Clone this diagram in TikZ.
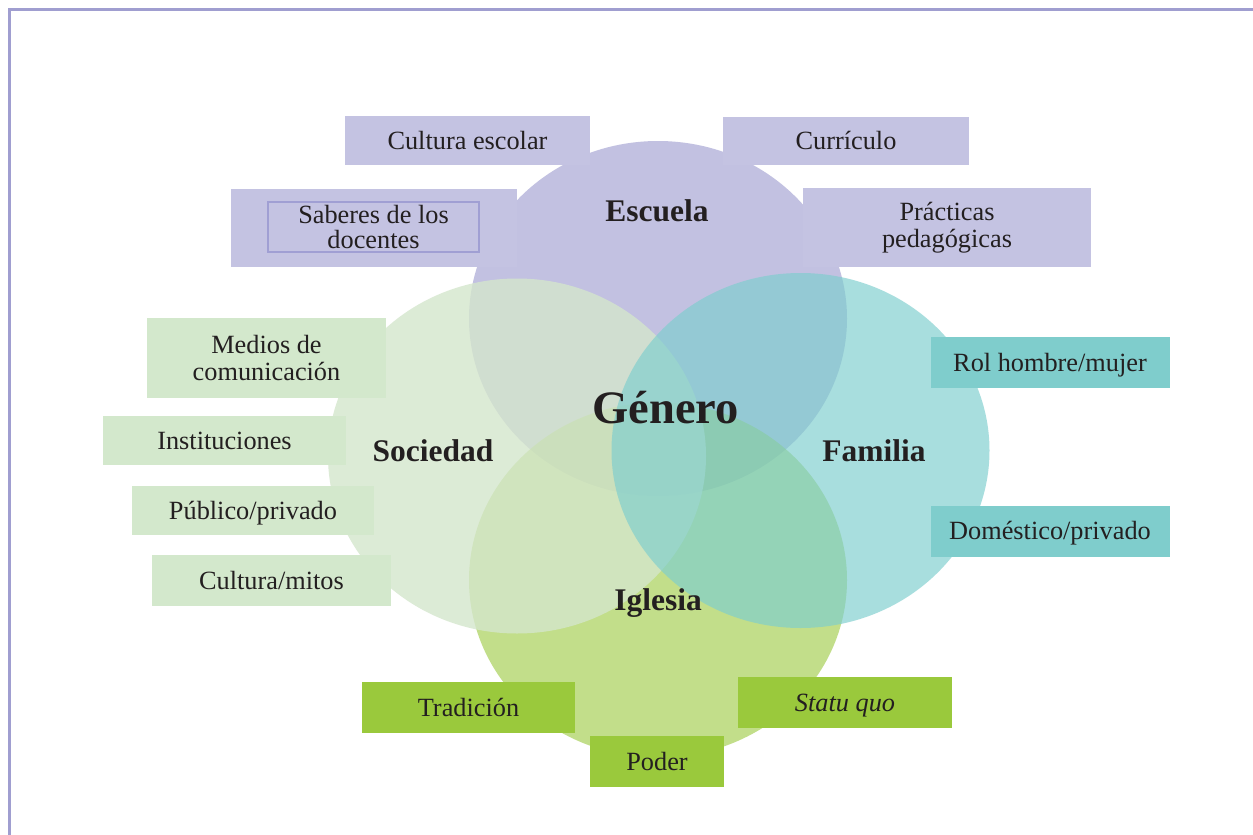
\documentclass[tikz,border=0pt]{standalone}
\usepackage{fontspec}
\setmainfont{Liberation Serif}
\usetikzlibrary{shapes.geometric}
\definecolor{framec}{HTML}{A09ED0}
\definecolor{escc}{HTML}{C2C1E1}
\definecolor{socc}{HTML}{D4E6CC}
\definecolor{famc}{HTML}{7ECECE}
\definecolor{iglc}{HTML}{9AC93C}
\definecolor{purbox}{HTML}{C4C3E2}
\definecolor{grnlbox}{HTML}{D3E8CC}
\definecolor{tealbox}{HTML}{7FCDCC}
\definecolor{grnbox}{HTML}{9AC93C}
\definecolor{innerc}{HTML}{A09FD3}
\definecolor{txt}{HTML}{231F20}
\newcommand{\myboxfont}{\fontsize{26.3}{27.5}\selectfont}
\newcommand{\mylblfont}{\fontsize{31.5}{32}\selectfont\bfseries}
\newcommand{\mygenfont}{\fontsize{46.5}{47}\selectfont\bfseries}
\begin{document}
\begin{tikzpicture}[x=1pt,y=-1pt,
  venn/.style={ellipse, inner sep=0pt, minimum width=378pt, minimum height=355pt},
  box/.style={rectangle, inner sep=0pt, text=txt, font=\myboxfont},
  oneline/.style={text height=17.5pt, text depth=0pt},
  twoline/.style={align=center},
  pbox/.style={box, fill=purbox},
  lgbox/.style={box, fill=grnlbox},
  tbox/.style={box, fill=tealbox},
  gbox/.style={box, fill=grnbox},
  lbl/.style={anchor=base, text=txt, font=\mylblfont, inner sep=0pt},
]
\useasboundingbox (0,0) rectangle (1253,835);
\fill[white] (0,0) rectangle (1253,835);
% frame
\draw[framec, line width=3pt] (9.5,835) -- (9.5,9.5) -- (1253,9.5);

% circles
\node[venn, fill=escc] (esc) at (658,318.5) {};
\node[venn, fill=iglc, fill opacity=0.6] (igl) at (658,580) {};
\node[venn, fill=socc, fill opacity=0.8] (soc) at (517,456) {};
\node[venn, fill=famc, fill opacity=0.67] (fam) at (800.5,450.5) {};

% Escuela boxes
\node[pbox, oneline, minimum width=245pt, minimum height=49pt] (cesc) at (467.5,140.5) {Cultura escolar};
\node[pbox, oneline, minimum width=246pt, minimum height=48pt] (curr) at (846,141) {Currículo};
\node[pbox, minimum width=286pt, minimum height=78pt] (sabo) at (374,228) {};
\node[box, twoline, draw=innerc, line width=1.5pt, minimum width=211pt, minimum height=50pt, font=\fontsize{26.3}{25.5}\selectfont] (sab) at (373.5,227) {Saberes de los\\docentes};
\node[pbox, twoline, minimum width=288pt, minimum height=79pt] (prac) at (947,227.5) {Prácticas\\pedagógicas};

% Sociedad boxes
\node[lgbox, twoline, minimum width=239pt, minimum height=80pt] (medios) at (266.5,358) {Medios de\\comunicación};
\node[lgbox, oneline, minimum width=243pt, minimum height=49pt] (inst) at (224.5,440.5) {Instituciones};
\node[lgbox, oneline, minimum width=242pt, minimum height=49pt] (publ) at (253,510.5) {Público/privado};
\node[lgbox, oneline, minimum width=239pt, minimum height=51pt] (mitos) at (271.5,580.5) {Cultura/mitos};

% Familia boxes
\node[tbox, oneline, minimum width=239pt, minimum height=51pt] (rol) at (1050,362.5) {Rol hombre/mujer};
\node[tbox, oneline, minimum width=239pt, minimum height=51pt] (dom) at (1050,531) {Doméstico/privado};

% Iglesia boxes
\node[gbox, oneline, minimum width=213pt, minimum height=51pt] (trad) at (468.5,707.5) {Tradición};
\node[gbox, oneline, minimum width=214pt, minimum height=51pt] (statu) at (845,702.5) {\itshape Statu quo};
\node[gbox, oneline, minimum width=134pt, minimum height=51pt] (poder) at (657,761.5) {Poder};

% labels
\node[lbl] (escl) at (657,221) {Escuela};
\node[lbl] (socl) at (433,461) {Sociedad};
\node[lbl] (faml) at (874,461) {Familia};
\node[lbl] (igll) at (658,610) {Iglesia};
\node[lbl, font=\mygenfont] (gen) at (665.5,423) {Género};
\end{tikzpicture}
\end{document}
